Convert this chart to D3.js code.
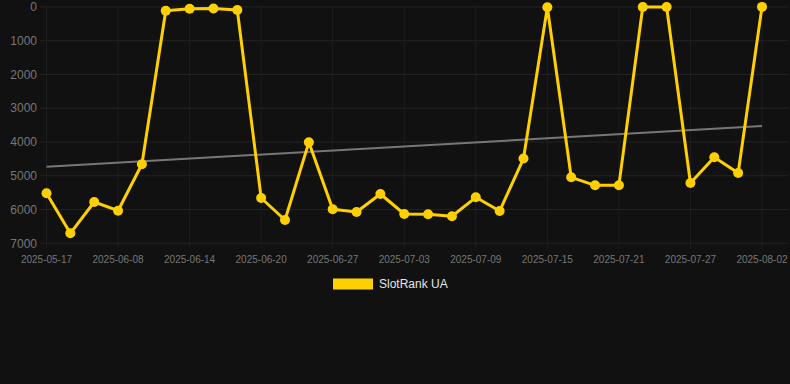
<!DOCTYPE html>
<html>
<head>
  <meta charset="UTF-8">
  <title>SlotRank UA</title>
  <script src="https://d3js.org/d3.v7.min.js"></script>
  <style>
    body { margin: 0; background: #111111; }
    svg { display: block; font-family: "Liberation Sans", Arial, sans-serif; }
  </style>
</head>
<body>
<svg id="chart"></svg>
<script>
  // categories (one per point), labels shown every 3rd one
  const dates = [
    "2025-05-17", "2025-05-24", "2025-06-01", "2025-06-08", "2025-06-10", "2025-06-12",
    "2025-06-14", "2025-06-16", "2025-06-18", "2025-06-20", "2025-06-22", "2025-06-25",
    "2025-06-27", "2025-06-29", "2025-07-01", "2025-07-03", "2025-07-05", "2025-07-07",
    "2025-07-09", "2025-07-11", "2025-07-13", "2025-07-15", "2025-07-17", "2025-07-19",
    "2025-07-21", "2025-07-23", "2025-07-25", "2025-07-27", "2025-07-29", "2025-07-31",
    "2025-08-02"
  ];
  const ranks = [
    5520, 6705, 5778, 6035, 4661, 112,
    53, 45, 92, 5659, 6310, 4010,
    5990, 6074, 5540, 6133, 6142, 6200,
    5638, 6044, 4490, 12, 5046, 5283,
    5283, 5, 5, 5215, 4454, 4918,
    0
  ];
  const trend = [4730, 3530];   // trend line, first and last category
  const yTicks = [0, 1000, 2000, 3000, 4000, 5000, 6000, 7000];
  const seriesName = "SlotRank UA";

  const width = 790, height = 384;
  const svg = d3.select("#chart").attr("width", width).attr("height", height);

  const x = d3.scalePoint().domain(dates).range([46.5, 762]);
  const y = d3.scaleLinear().domain([0, 7000]).range([6.9, 243.3]);

  // grid
  svg.append("g")
    .selectAll("line")
    .data(yTicks)
    .enter().append("line")
      .attr("x1", 40).attr("x2", 788)
      .attr("y1", d => y(d)).attr("y2", d => y(d))
      .attr("stroke", "#232323").attr("stroke-width", 1);

  const labelled = dates.filter((d, i) => i % 3 === 0);
  svg.append("g")
    .selectAll("line")
    .data(labelled)
    .enter().append("line")
      .attr("x1", d => x(d)).attr("x2", d => x(d))
      .attr("y1", y(0)).attr("y2", y(7000) + 5)
      .attr("stroke", "#1e1e1e").attr("stroke-width", 1);

  // y axis labels
  svg.append("g")
    .selectAll("text")
    .data(yTicks)
    .enter().append("text")
      .attr("x", 37).attr("y", d => y(d))
      .attr("dy", "0.35em")
      .attr("text-anchor", "end")
      .attr("font-size", 12)
      .attr("fill", "#777")
      .text(d => d);

  // x axis labels
  svg.append("g")
    .selectAll("text")
    .data(labelled)
    .enter().append("text")
      .attr("x", d => x(d)).attr("y", 259)
      .attr("dy", "0.35em")
      .attr("text-anchor", "middle")
      .attr("font-size", 10)
      .attr("fill", "#777")
      .text(d => d);

  // trend
  svg.append("line")
    .attr("x1", x(dates[0])).attr("y1", y(trend[0]))
    .attr("x2", x(dates[dates.length - 1])).attr("y2", y(trend[1]))
    .attr("stroke", "#777").attr("stroke-width", 2);

  // series
  const line = d3.line()
    .x((d, i) => x(dates[i]))
    .y(d => y(d));

  svg.append("path")
    .datum(ranks)
    .attr("d", line)
    .attr("fill", "none")
    .attr("stroke", "#FFD000")
    .attr("stroke-width", 3)
    .attr("stroke-linejoin", "round");

  svg.append("g")
    .selectAll("circle")
    .data(ranks)
    .enter().append("circle")
      .attr("cx", (d, i) => x(dates[i]))
      .attr("cy", d => y(d))
      .attr("r", 5)
      .attr("fill", "#FFD000");

  // legend
  svg.append("rect")
    .attr("x", 333).attr("y", 278.5)
    .attr("width", 40).attr("height", 11)
    .attr("fill", "#FFD000");
  svg.append("text")
    .attr("x", 379).attr("y", 284)
    .attr("dy", "0.35em")
    .attr("font-size", 12)
    .attr("fill", "#e6e6e6")
    .text(seriesName);
</script>
</body>
</html>
